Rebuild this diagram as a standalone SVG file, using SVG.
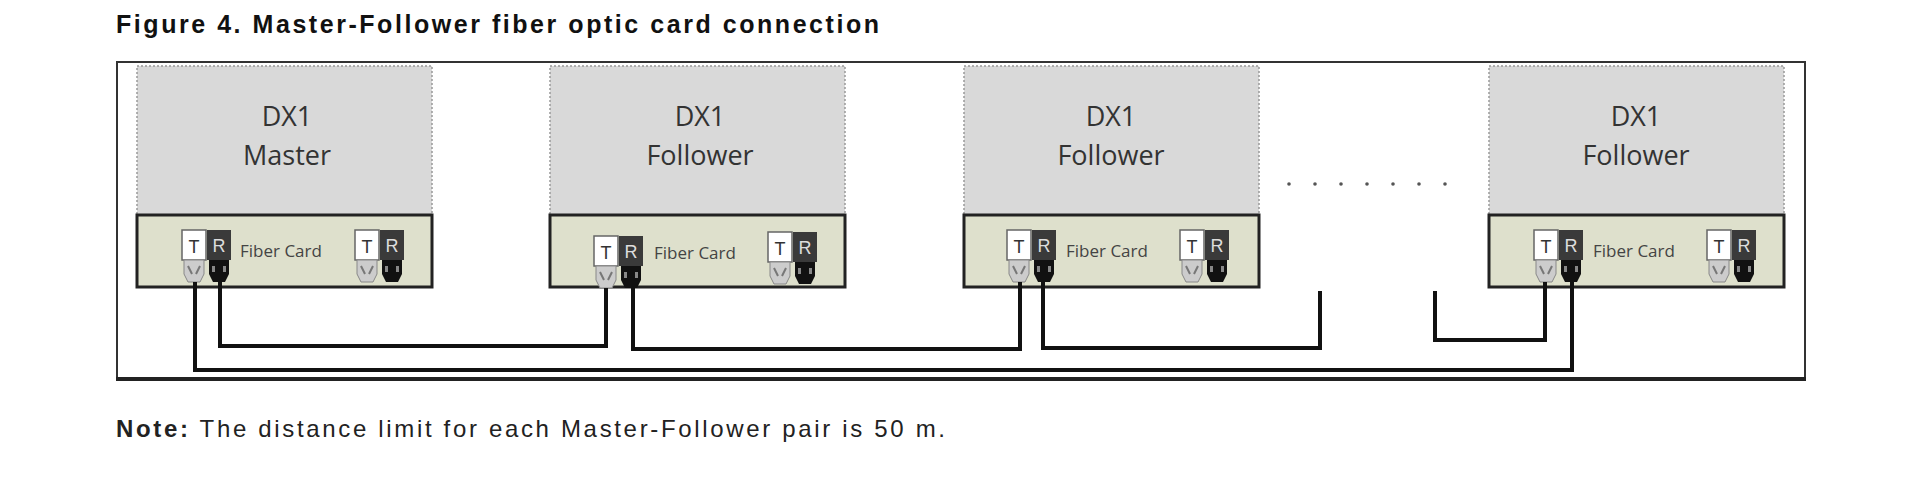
<svg xmlns="http://www.w3.org/2000/svg" xmlns:xlink="http://www.w3.org/1999/xlink" width="1920" height="481" viewBox="0 0 1920 481">
<style>
.title{font-family:"Liberation Sans",Arial,sans-serif;font-weight:bold;font-size:25px;fill:#111}
.note{font-family:"Liberation Sans",Arial,sans-serif;font-size:24px;fill:#222}
.body{fill:#d9d9d9;stroke:#999;stroke-width:1.5;stroke-dasharray:2 2}
.card{fill:#dee0cc;stroke:#222;stroke-width:3}
.lbl{font-family:"Open Sans","DejaVu Sans",sans-serif;font-size:27px;fill:#333;text-anchor:middle}
.fc{font-family:"Open Sans","DejaVu Sans",sans-serif;font-size:17px;fill:#444}
.wire{fill:none;stroke:#111;stroke-width:4}
.dot{fill:#555}
</style>
<defs>
<g id="tr">
<rect x="0" y="0" width="24" height="30" fill="#fff" stroke="#666" stroke-width="1.5"/>
<text x="12" y="23" font-family="Liberation Sans,Arial,sans-serif" font-size="18" fill="#333" text-anchor="middle">T</text>
<rect x="25" y="0" width="24" height="30" fill="#3a3a3a"/>
<text x="37" y="22" font-family="Liberation Sans,Arial,sans-serif" font-size="18" fill="#ddd" text-anchor="middle">R</text>
<path d="M2 30 h20 v14 l-4 8 h-12 l-4 -8z" fill="#ccc" stroke="#888" stroke-width="1"/>
<path d="M6 36 l4 8 M18 36 l-4 8" stroke="#777" stroke-width="2"/>
<path d="M27 30 h20 v14 l-4 8 h-12 l-4 -8z" fill="#111"/>
<rect x="30" y="36" width="3" height="6" fill="#888"/><rect x="41" y="36" width="3" height="6" fill="#888"/>
</g>
</defs>
<text class="title" x="116" y="33" textLength="763" lengthAdjust="spacing">Figure 4.  Master-Follower fiber optic card connection</text>
<g id="frame">
<rect x="117" y="62" width="1688" height="316" fill="#fff" stroke="#333" stroke-width="2"/>
<line x1="116" y1="379" x2="1806" y2="379" stroke="#222" stroke-width="4"/>
</g>
<g id="node-master">
<rect class="body" x="137" y="66" width="295" height="149"/>
<rect class="card" x="137" y="215" width="295" height="72"/>
<text class="lbl" x="287" y="126">DX1</text><text class="lbl" x="287" y="165">Master</text>
<use xlink:href="#tr" x="182" y="230"/><use xlink:href="#tr" x="355" y="230"/>
<text class="fc" x="240" y="257">Fiber Card</text>
</g>
<g id="node-follower1">
<rect class="body" x="550" y="66" width="295" height="149"/>
<rect class="card" x="550" y="215" width="295" height="72"/>
<text class="lbl" x="700" y="126">DX1</text><text class="lbl" x="700" y="165">Follower</text>
<use xlink:href="#tr" x="594" y="236"/><use xlink:href="#tr" x="768" y="232"/>
<text class="fc" x="654" y="259">Fiber Card</text>
</g>
<g id="node-follower2">
<rect class="body" x="964" y="66" width="295" height="149"/>
<rect class="card" x="964" y="215" width="295" height="72"/>
<text class="lbl" x="1111" y="126">DX1</text><text class="lbl" x="1111" y="165">Follower</text>
<use xlink:href="#tr" x="1007" y="230"/><use xlink:href="#tr" x="1180" y="230"/>
<text class="fc" x="1066" y="257">Fiber Card</text>
</g>
<g id="node-follower3">
<rect class="body" x="1489" y="66" width="295" height="149"/>
<rect class="card" x="1489" y="215" width="295" height="72"/>
<text class="lbl" x="1636" y="126">DX1</text><text class="lbl" x="1636" y="165">Follower</text>
<use xlink:href="#tr" x="1534" y="230"/><use xlink:href="#tr" x="1707" y="230"/>
<text class="fc" x="1593" y="257">Fiber Card</text>
</g>
<g id="dots">
<circle class="dot" cx="1289" cy="184" r="1.8"/><circle class="dot" cx="1315" cy="184" r="1.8"/><circle class="dot" cx="1341" cy="184" r="1.8"/><circle class="dot" cx="1367" cy="184" r="1.8"/><circle class="dot" cx="1393" cy="184" r="1.8"/><circle class="dot" cx="1419" cy="184" r="1.8"/><circle class="dot" cx="1445" cy="184" r="1.8"/>
</g>
<g id="connectors">
<path class="wire" d="M220 282 V346 H606 V288"/>
<path class="wire" d="M633 288 V349 H1020 V282"/>
<path class="wire" d="M1043 282 V348 H1320 V291"/>
<path class="wire" d="M1435 291 V340 H1545 V282"/>
<path class="wire" d="M1572 282 V370 H195 V282"/>
</g>
<text class="note" x="116" y="437" textLength="829" lengthAdjust="spacing"><tspan font-weight="bold">Note:</tspan>  The distance limit for each Master-Follower pair is 50 m.</text>
</svg>
